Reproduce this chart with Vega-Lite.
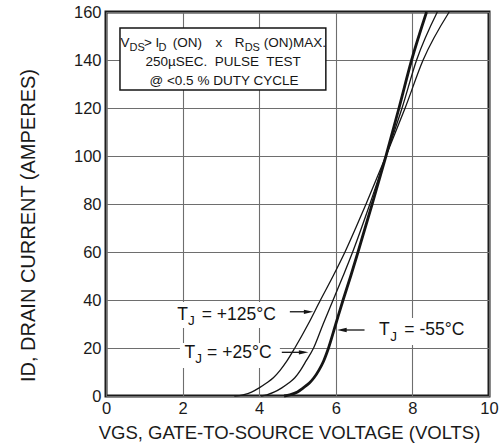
{
  "$schema": "https://vega.github.io/schema/vega-lite/v6.json",
  "width": 383,
  "height": 384,
  "autosize": "none",
  "padding": {"left": 106, "top": 12, "right": 10, "bottom": 50},
  "background": "white",
  "config": {
    "font": "Liberation Sans",
    "view": {"stroke": "#1a1a1a", "strokeWidth": 3},
    "axis": {
      "domain": false, "ticks": false, "grid": true, "gridColor": "#6e6e6e", "gridWidth": 1.1,
      "labelFont": "Liberation Sans", "labelFontSize": 16.5, "labelColor": "#1a1a1a",
      "titleFont": "Liberation Sans", "titleFontSize": 18, "titleFontWeight": "normal", "titleColor": "#1a1a1a"
    }
  },
  "datasets": {
    "curves": [
      {"T": "125", "x": 3.35, "y": 0}, {"T": "125", "x": 3.58, "y": 0.5}, {"T": "125", "x": 3.8, "y": 1.6}, {"T": "125", "x": 4.0, "y": 3.4},
      {"T": "125", "x": 4.2, "y": 5.5}, {"T": "125", "x": 4.37, "y": 7.6}, {"T": "125", "x": 4.55, "y": 10.8}, {"T": "125", "x": 4.72, "y": 14.5},
      {"T": "125", "x": 4.93, "y": 20}, {"T": "125", "x": 5.28, "y": 30}, {"T": "125", "x": 5.6, "y": 40}, {"T": "125", "x": 5.93, "y": 50},
      {"T": "125", "x": 6.24, "y": 60}, {"T": "125", "x": 6.52, "y": 70}, {"T": "125", "x": 6.79, "y": 80}, {"T": "125", "x": 7.05, "y": 90},
      {"T": "125", "x": 7.31, "y": 100}, {"T": "125", "x": 7.56, "y": 110}, {"T": "125", "x": 7.81, "y": 120}, {"T": "125", "x": 8.28, "y": 140},
      {"T": "125", "x": 8.96, "y": 160},
      {"T": "25", "x": 4.05, "y": 0}, {"T": "25", "x": 4.2, "y": 0.5}, {"T": "25", "x": 4.4, "y": 1.7}, {"T": "25", "x": 4.59, "y": 3.4},
      {"T": "25", "x": 4.77, "y": 5.4}, {"T": "25", "x": 4.93, "y": 7.6}, {"T": "25", "x": 5.08, "y": 10.8}, {"T": "25", "x": 5.22, "y": 14.5},
      {"T": "25", "x": 5.42, "y": 20}, {"T": "25", "x": 5.67, "y": 30}, {"T": "25", "x": 5.93, "y": 40}, {"T": "25", "x": 6.19, "y": 50},
      {"T": "25", "x": 6.44, "y": 60}, {"T": "25", "x": 6.89, "y": 80}, {"T": "25", "x": 7.31, "y": 100}, {"T": "25", "x": 7.73, "y": 120},
      {"T": "25", "x": 8.11, "y": 140}, {"T": "25", "x": 8.65, "y": 160},
      {"T": "-55", "x": 4.65, "y": 0}, {"T": "-55", "x": 4.8, "y": 0.5}, {"T": "-55", "x": 5.0, "y": 1.7}, {"T": "-55", "x": 5.15, "y": 3.4},
      {"T": "-55", "x": 5.31, "y": 5.4}, {"T": "-55", "x": 5.43, "y": 7.6}, {"T": "-55", "x": 5.56, "y": 10.8}, {"T": "-55", "x": 5.68, "y": 14.5},
      {"T": "-55", "x": 5.81, "y": 20}, {"T": "-55", "x": 6.0, "y": 30}, {"T": "-55", "x": 6.19, "y": 40}, {"T": "-55", "x": 6.39, "y": 50},
      {"T": "-55", "x": 6.58, "y": 60}, {"T": "-55", "x": 6.95, "y": 80}, {"T": "-55", "x": 7.31, "y": 100}, {"T": "-55", "x": 7.65, "y": 120},
      {"T": "-55", "x": 7.98, "y": 140}, {"T": "-55", "x": 8.37, "y": 160}
    ],
    "box": [{"x": 0.365, "x2": 5.74, "y": 153.3, "y2": 127.5}],
    "labelBg": [
      {"x": 1.72, "x2": 4.7, "y": 28.3, "y2": 39.2},
      {"x": 1.93, "x2": 4.54, "y": 11.7, "y2": 22.1},
      {"x": 7.01, "x2": 9.6, "y": 21.25, "y2": 32.5}
    ],
    "boxMain": [
      {"x": 0.38, "y": 145.5, "t": "V"},
      {"x": 0.99, "y": 145.5, "t": ">"},
      {"x": 1.29, "y": 145.5, "t": "I"},
      {"x": 1.74, "y": 145.5, "t": "(ON)"},
      {"x": 2.86, "y": 145.5, "t": "x"},
      {"x": 3.36, "y": 145.5, "t": "R"},
      {"x": 4.12, "y": 145.5, "t": "(ON)MAX."}
    ],
    "boxSub": [
      {"x": 0.615, "y": 143.9, "t": "DS"},
      {"x": 1.37, "y": 143.9, "t": "D"},
      {"x": 3.62, "y": 143.9, "t": "DS"}
    ],
    "boxCenter": [
      {"x": 3.06, "y": 137.6, "t": "250µSEC.\u00a0 PULSE\u00a0 TEST"},
      {"x": 3.08, "y": 129.6, "t": "@ <0.5 % DUTY CYCLE"}
    ],
    "lblMain": [
      {"x": 1.86, "y": 31.67, "t": "T"}, {"x": 2.5, "y": 31.67, "t": "= +125°C"},
      {"x": 2.05, "y": 15.83, "t": "T"}, {"x": 2.64, "y": 15.83, "t": "= +25°C"},
      {"x": 7.13, "y": 25.4, "t": "T"}, {"x": 7.79, "y": 25.4, "t": "= -55°C"}
    ],
    "lblSub": [
      {"x": 2.14, "y": 29.4, "t": "J"},
      {"x": 2.33, "y": 13.55, "t": "J"},
      {"x": 7.42, "y": 23.1, "t": "J"}
    ],
    "arrows": [
      {"x": 4.8, "x2": 5.29, "y": 35.1},
      {"x": 4.59, "x2": 5.16, "y": 18.2},
      {"x": 6.75, "x2": 6.16, "y": 27.5}
    ],
    "headsR": [{"x": 5.29, "y": 35.1}, {"x": 5.16, "y": 18.2}],
    "headsL": [{"x": 6.16, "y": 27.5}]
  },
  "encoding": {
    "x": {"field": "x", "type": "quantitative", "scale": {"domain": [0, 10], "nice": false, "zero": false},
      "axis": {"values": [0, 2, 4, 6, 8, 10], "labelPadding": 4, "labelFlush": false, "labelOverlap": false,
        "title": "VGS, GATE-TO-SOURCE VOLTAGE (VOLTS)", "titleX": 183, "titleY": 42, "titleFontSize": 18.5, "titleBaseline": "alphabetic", "titleAnchor": "start", "titleAlign": "center"}},
    "y": {"field": "y", "type": "quantitative", "scale": {"domain": [0, 160], "nice": false, "zero": false},
      "axis": {"values": [0, 20, 40, 60, 80, 100, 120, 140, 160], "labelPadding": 5, "labelFlush": false, "labelOverlap": false,
        "title": "ID, DRAIN CURRENT (AMPERES)", "titleX": -78, "titleY": 213, "titleFontSize": 20, "titleBaseline": "middle", "titleAlign": "center", "titleAngle": -90}}
  },
  "layer": [
    {
      "data": {"name": "labelBg"},
      "mark": {"type": "rect", "fill": "white", "stroke": null},
      "encoding": {"x2": {"field": "x2"}, "y2": {"field": "y2"}}
    },
    {
      "data": {"name": "curves"},
      "transform": [{"filter": "datum.T != '-55'"}],
      "mark": {"type": "line", "interpolate": "monotone", "color": "#151515", "strokeWidth": 1.3},
      "encoding": {"detail": {"field": "T"}}
    },
    {
      "data": {"name": "curves"},
      "transform": [{"filter": "datum.T == '-55'"}],
      "mark": {"type": "line", "interpolate": "monotone", "color": "#151515", "strokeWidth": 2.8},
      "encoding": {}
    },
    {
      "data": {"name": "box"},
      "mark": {"type": "rect", "fill": "white", "stroke": "#151515", "strokeWidth": 1.5},
      "encoding": {"x2": {"field": "x2"}, "y2": {"field": "y2"}}
    },
    {
      "data": {"name": "boxMain"},
      "mark": {"type": "text", "align": "left", "baseline": "alphabetic", "fontSize": 13.5, "color": "#151515"},
      "encoding": {"text": {"field": "t"}}
    },
    {
      "data": {"name": "boxSub"},
      "mark": {"type": "text", "align": "left", "baseline": "alphabetic", "fontSize": 11, "color": "#151515"},
      "encoding": {"text": {"field": "t"}}
    },
    {
      "data": {"name": "boxCenter"},
      "mark": {"type": "text", "align": "center", "baseline": "alphabetic", "fontSize": 13.5, "color": "#151515"},
      "encoding": {"text": {"field": "t"}}
    },
    {
      "data": {"name": "lblMain"},
      "mark": {"type": "text", "align": "left", "baseline": "alphabetic", "fontSize": 17.5, "color": "#151515"},
      "encoding": {"text": {"field": "t"}}
    },
    {
      "data": {"name": "lblSub"},
      "mark": {"type": "text", "align": "left", "baseline": "alphabetic", "fontSize": 13.5, "color": "#151515"},
      "encoding": {"text": {"field": "t"}}
    },
    {
      "data": {"name": "arrows"},
      "mark": {"type": "rule", "color": "#151515", "strokeWidth": 1.3},
      "encoding": {"x2": {"field": "x2"}}
    },
    {
      "data": {"name": "headsR"},
      "mark": {"type": "point", "filled": true, "color": "#151515", "opacity": 1, "size": 90, "shape": "M-1,-0.45L1,0L-1,0.45Z"},
      "encoding": {}
    },
    {
      "data": {"name": "headsL"},
      "mark": {"type": "point", "filled": true, "color": "#151515", "opacity": 1, "size": 90, "shape": "M1,-0.45L-1,0L1,0.45Z"},
      "encoding": {}
    }
  ]
}
